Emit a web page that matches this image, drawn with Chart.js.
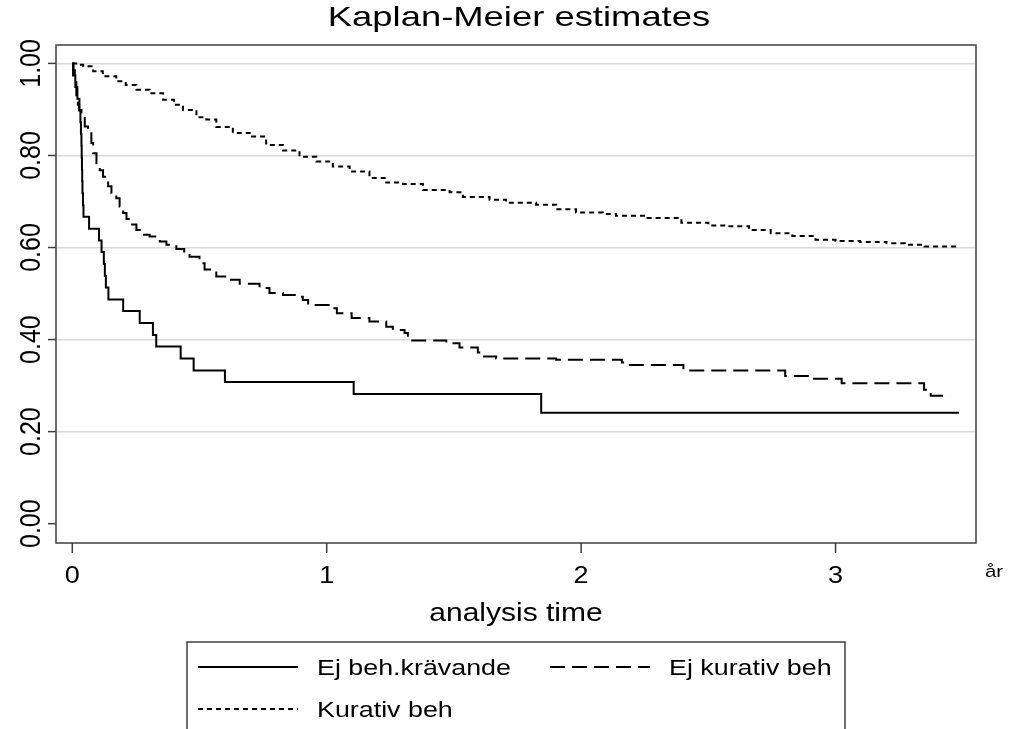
<!DOCTYPE html>
<html>
<head>
<meta charset="utf-8">
<script src="https://cdn.jsdelivr.net/npm/chart.js@4.4.1/dist/chart.umd.min.js"></script>
<style>
  html, body { margin: 0; padding: 0; background: #ffffff; }
  canvas { display: block; }
</style>
</head>
<body>
<canvas id="km" width="1010" height="729"></canvas>
<script>
// Kaplan-Meier survival estimates by treatment group (time in years)
const seriesNames = ['Ej beh.krävande', 'Ej kurativ beh', 'Kurativ beh'];

const timeEjBeh = [0, 0.003, 0.012, 0.020, 0.028, 0.032, 0.034, 0.036, 0.037, 0.038, 0.039, 0.040, 0.042, 0.044,
  0.066, 0.105, 0.115, 0.124, 0.128, 0.132, 0.142, 0.200, 0.265, 0.317, 0.330, 0.426, 0.477, 0.600,
  1.106, 1.843, 3.485];
const survEjBeh = [1, 0.974, 0.949, 0.923, 0.897, 0.872, 0.846, 0.821, 0.795, 0.769, 0.744, 0.718, 0.692, 0.667,
  0.641, 0.615, 0.590, 0.564, 0.538, 0.513, 0.487, 0.462, 0.436, 0.410, 0.385, 0.359, 0.333, 0.308,
  0.282, 0.241, 0.241];

const timeEjKur = [0, 0.005, 0.010, 0.016, 0.022, 0.027, 0.036, 0.049, 0.062, 0.075, 0.082, 0.095, 0.108, 0.121,
  0.141, 0.154, 0.173, 0.186, 0.200, 0.213, 0.226, 0.252, 0.278, 0.304, 0.344, 0.370, 0.409, 0.440,
  0.461, 0.500, 0.520, 0.566, 0.618, 0.658, 0.736, 0.775, 0.828, 0.880, 0.906, 0.927, 1.024, 1.040,
  1.098, 1.168, 1.234, 1.260, 1.306, 1.319, 1.470, 1.522, 1.594, 1.613, 1.666, 1.902, 2.160, 2.180,
  2.402, 2.802, 2.905, 3.024, 3.348, 3.374, 3.450];
const survEjKur = [1, 0.985, 0.965, 0.928, 0.910, 0.899, 0.885, 0.863, 0.856, 0.827, 0.805, 0.783, 0.768, 0.754,
  0.733, 0.718, 0.707, 0.689, 0.675, 0.662, 0.650, 0.638, 0.628, 0.624, 0.613, 0.606, 0.597, 0.588,
  0.580, 0.566, 0.552, 0.537, 0.530, 0.521, 0.512, 0.501, 0.497, 0.493, 0.486, 0.475, 0.468, 0.457,
  0.447, 0.439, 0.428, 0.421, 0.414, 0.398, 0.392, 0.383, 0.372, 0.363, 0.359, 0.356, 0.350, 0.345,
  0.333, 0.321, 0.315, 0.305, 0.291, 0.278, 0.278];

const timeKur = [0, 0.020, 0.043, 0.082, 0.120, 0.173, 0.210, 0.252, 0.304, 0.357, 0.400, 0.435, 0.488, 0.527,
  0.566, 0.631, 0.697, 0.762, 0.828, 0.893, 0.959, 1.024, 1.090, 1.168, 1.234, 1.300, 1.378, 1.483,
  1.535, 1.640, 1.705, 1.823, 1.902, 1.980, 2.085, 2.137, 2.255, 2.394, 2.500, 2.570, 2.660, 2.745,
  2.830, 2.921, 3.000, 3.096, 3.200, 3.272, 3.350, 3.483];
const survKur = [1, 0.997, 0.994, 0.983, 0.972, 0.961, 0.953, 0.943, 0.935, 0.921, 0.910, 0.899, 0.883, 0.878,
  0.862, 0.849, 0.841, 0.823, 0.811, 0.797, 0.787, 0.776, 0.765, 0.751, 0.741, 0.738, 0.725, 0.720,
  0.710, 0.704, 0.697, 0.693, 0.683, 0.676, 0.673, 0.669, 0.664, 0.654, 0.648, 0.646, 0.638, 0.631,
  0.625, 0.617, 0.614, 0.612, 0.609, 0.606, 0.602, 0.602];

const xTicks = [0, 1, 2, 3];
const xTickLabels = ['0', '1', '2', '3'];
const yTicks = [0, 0.2, 0.4, 0.6, 0.8, 1.0];
const yTickLabels = ['0.00', '0.20', '0.40', '0.60', '0.80', '1.00'];

const chartTitle = 'Kaplan-Meier estimates';
const xTitle = 'analysis time';
const xUnit = 'år';

const FONT = '"Liberation Sans", Arial, Helvetica, sans-serif';
const FRAME = '#3f3f3f';

function toPoints(ts, ss) {
  return ts.map((t, i) => ({ x: t, y: ss[i] }));
}

// Text drawn slightly wide, horizontally stretched like the exported graph
function wideText(ctx, txt, x, y, size, sx, align, rotated) {
  ctx.save();
  ctx.translate(x, y);
  if (rotated) {
    ctx.rotate(-Math.PI / 2);
    ctx.scale(1, sx);
  } else {
    ctx.scale(sx, 1);
  }
  ctx.font = size + 'px ' + FONT;
  ctx.textAlign = align;
  ctx.textBaseline = 'alphabetic';
  ctx.fillStyle = '#000000';
  ctx.fillText(txt, 0, 0);
  ctx.restore();
}

const legendSlots = [
  { x: 198, y: 667 },
  { x: 550, y: 667 },
  { x: 198, y: 709 }
];

const decorations = {
  id: 'decorations',
  afterDraw(chart) {
    const ctx = chart.ctx;
    const area = chart.chartArea;
    const xs = chart.scales.x;
    const ys = chart.scales.y;

    ctx.save();
    // plot frame
    ctx.strokeStyle = FRAME;
    ctx.lineWidth = 1.5;
    ctx.strokeRect(area.left, area.top, area.right - area.left, area.bottom - area.top);

    // y tick marks and rotated labels
    yTicks.forEach((v, i) => {
      const py = ys.getPixelForValue(v);
      ctx.beginPath();
      ctx.moveTo(area.left - 8, py);
      ctx.lineTo(area.left, py);
      ctx.stroke();
      wideText(ctx, yTickLabels[i], 39.5, py, 25, 1.2, 'center', true);
    });

    // x tick marks and labels
    xTicks.forEach((v, i) => {
      const px = xs.getPixelForValue(v);
      ctx.beginPath();
      ctx.moveTo(px, area.bottom);
      ctx.lineTo(px, area.bottom + 10);
      ctx.stroke();
      wideText(ctx, xTickLabels[i], px, 583, 23.5, 1.15, 'center', false);
    });

    wideText(ctx, xUnit, 985, 577, 17, 1.2, 'left', false);
    wideText(ctx, xTitle, (area.left + area.right) / 2, 621, 25, 1.2, 'center', false);
    wideText(ctx, chartTitle, 519, 26, 28, 1.3, 'center', false);

    // legend box
    ctx.strokeStyle = FRAME;
    ctx.lineWidth = 1.5;
    ctx.strokeRect(187, 642, 845 - 187, 120);
    chart.data.datasets.forEach((ds, i) => {
      const slot = legendSlots[i];
      ctx.save();
      ctx.strokeStyle = ds.borderColor;
      ctx.lineWidth = ds.borderWidth;
      ctx.setLineDash(ds.borderDash || []);
      ctx.beginPath();
      ctx.moveTo(slot.x, slot.y);
      ctx.lineTo(slot.x + 100, slot.y);
      ctx.stroke();
      ctx.restore();
      wideText(ctx, ds.label, slot.x + 119, slot.y + 8, 22, 1.22, 'left', false);
    });
    ctx.restore();
  }
};

new Chart(document.getElementById('km'), {
  type: 'line',
  data: {
    datasets: [
      {
        label: seriesNames[0],
        data: toPoints(timeEjBeh, survEjBeh),
        borderColor: '#000000',
        borderWidth: 2,
        borderDash: [],
        stepped: true,
        pointRadius: 0,
        fill: false
      },
      {
        label: seriesNames[1],
        data: toPoints(timeEjKur, survEjKur),
        borderColor: '#000000',
        borderWidth: 2,
        borderDash: [15, 7],
        stepped: true,
        pointRadius: 0,
        fill: false
      },
      {
        label: seriesNames[2],
        data: toPoints(timeKur, survKur),
        borderColor: '#000000',
        borderWidth: 2,
        borderDash: [5, 4],
        stepped: true,
        pointRadius: 0,
        fill: false
      }
    ]
  },
  options: {
    responsive: false,
    animation: false,
    events: [],
    layout: { padding: { left: 56, top: 45, right: 34, bottom: 186 } },
    plugins: {
      legend: { display: false },
      title: { display: false },
      tooltip: { enabled: false }
    },
    scales: {
      x: {
        type: 'linear',
        min: -0.064,
        max: 3.552,
        afterBuildTicks: (s) => { s.ticks = xTicks.map(v => ({ value: v })); },
        ticks: { display: false },
        grid: { display: false, drawTicks: false },
        border: { display: false }
      },
      y: {
        type: 'linear',
        min: -0.042,
        max: 1.040,
        afterBuildTicks: (s) => { s.ticks = yTicks.map(v => ({ value: v })); },
        ticks: { display: false },
        grid: {
          drawTicks: false,
          lineWidth: 1.5,
          color: (c) => (c.tick && c.tick.value === 0 ? 'rgba(0,0,0,0)' : '#dadada')
        },
        border: { display: false }
      }
    }
  },
  plugins: [decorations]
});
</script>
</body>
</html>
